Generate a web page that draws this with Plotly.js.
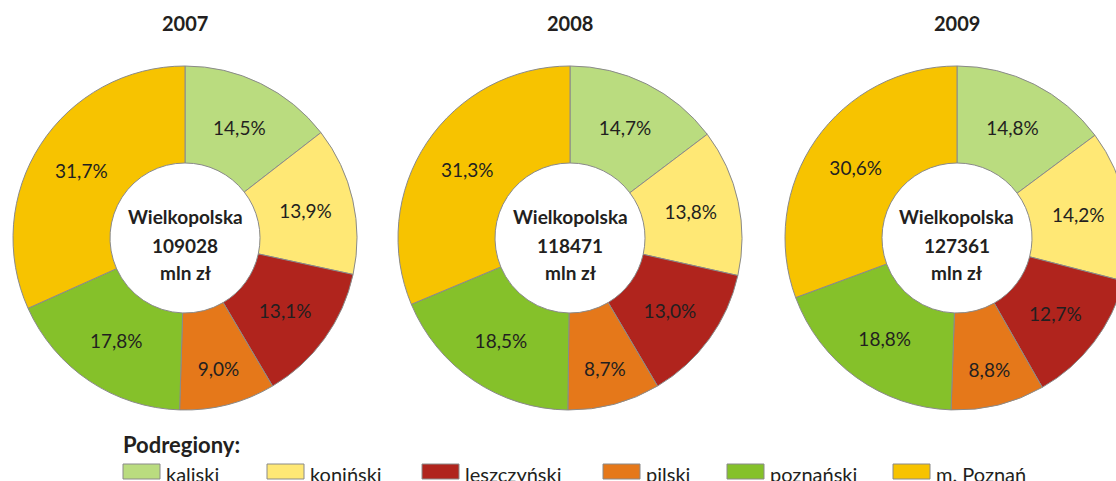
<!DOCTYPE html>
<html>
<head>
<meta charset="utf-8">
<script src="https://cdn.plot.ly/plotly-3.0.1.min.js"></script>
<style>
html,body{margin:0;padding:0;overflow:hidden;background:#fff;}
#chart{width:1140px;height:495px;}
</style>
</head>
<body>
<div id="chart"></div>
<script>
// ---- data ----
const categories = ["kaliski", "koniński", "leszczyński", "pilski", "poznański", "m. Poznań"];
const years = ["2007", "2008", "2009"];
const shares2007 = [14.5, 13.9, 13.1, 9.0, 17.8, 31.7];
const shares2008 = [14.7, 13.8, 13.0, 8.7, 18.5, 31.3];
const shares2009 = [14.8, 14.2, 12.7, 8.8, 18.8, 30.6];
const totals = [109028, 118471, 127361];
const regionName = "Wielkopolska";
const unit = "mln zł";
const legendTitle = "Podregiony:";
const colors = ["#BADC7F", "#FFE875", "#B0241D", "#E5781A", "#85C12A", "#F7C300"];

// ---- layout constants (pixels) ----
const W = 1140, H = 495;
const centersX = [185, 570, 957];
const centerY = 238, R = 172;
const centerLinesY = [217, 245, 272];
const legendSwatchX = [123, 267, 422, 603, 727, 893];
const swatchW = 37, swatchTop = 464, swatchH = 15;
const FONT = "Lato, 'Open Sans', sans-serif";
const INK = '#231F20';

const allShares = [shares2007, shares2008, shares2009];
const px = x => x / W;
const py = y => 1 - y / H;

const fmt = v => v.toFixed(1).replace('.', ',') + '%';

const traces = allShares.map((vals, i) => ({
  type: 'pie',
  values: vals,
  labels: categories,
  text: vals.map(fmt),
  textinfo: 'text',
  textposition: 'inside',
  insidetextorientation: 'horizontal',
  textfont: {family: FONT, size: 19, color: INK},
  hoverinfo: 'none',
  sort: false,
  direction: 'clockwise',
  rotation: 0,
  hole: 0.436,
  marker: {colors: colors, line: {color: '#8a8a8a', width: 1}},
  domain: {
    x: [px(centersX[i] - R), px(centersX[i] + R)],
    y: [py(centerY + R), py(centerY - R)]
  },
  showlegend: false
}));

const annotations = [];
const shapes = [];
years.forEach((yr, i) => {
  annotations.push({
    xref: 'paper', yref: 'paper', x: px(centersX[i]), y: py(23),
    text: '<b>' + yr + '</b>', showarrow: false,
    font: {family: FONT, size: 20, color: INK},
    xanchor: 'center', yanchor: 'middle'
  });
  const lines = [regionName, String(totals[i]), unit];
  lines.forEach((ln, k) => {
    annotations.push({
      xref: 'paper', yref: 'paper', x: px(centersX[i]), y: py(centerLinesY[k]),
      text: '<b>' + ln + '</b>', showarrow: false,
      font: {family: FONT, size: 19, color: INK},
      xanchor: 'center', yanchor: 'middle'
    });
  });
});

annotations.push({
  xref: 'paper', yref: 'paper', x: px(121), y: py(444),
  text: '<b>' + legendTitle + '</b>', showarrow: false,
  font: {family: FONT, size: 22, color: INK},
  xanchor: 'left', yanchor: 'middle'
});

categories.forEach((c, i) => {
  shapes.push({
    type: 'rect', xref: 'paper', yref: 'paper',
    x0: px(legendSwatchX[i]), x1: px(legendSwatchX[i] + swatchW),
    y0: py(swatchTop + swatchH), y1: py(swatchTop),
    fillcolor: colors[i], line: {color: '#8a8a8a', width: 1}
  });
  annotations.push({
    xref: 'paper', yref: 'paper', x: px(legendSwatchX[i] + swatchW + 4), y: py(474),
    text: c, showarrow: false,
    font: {family: FONT, size: 20, color: INK},
    xanchor: 'left', yanchor: 'middle'
  });
});

const layout = {
  width: W, height: H,
  margin: {l: 0, r: 0, t: 0, b: 0},
  paper_bgcolor: '#fff',
  showlegend: false,
  uniformtext: {minsize: 18, mode: 'show'},
  annotations: annotations,
  shapes: shapes
};

Plotly.newPlot('chart', traces, layout, {staticPlot: true, displayModeBar: false});
</script>
</body>
</html>
